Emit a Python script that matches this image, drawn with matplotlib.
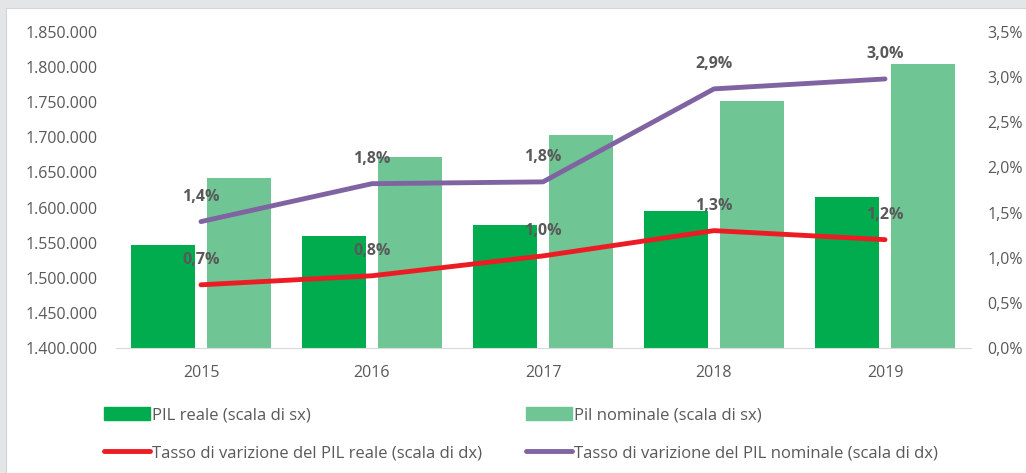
import matplotlib.pyplot as plt
from matplotlib.patches import Rectangle
from matplotlib.lines import Line2D
from matplotlib.patches import Patch
from matplotlib.ticker import FuncFormatter

# Data
years = ['2015', '2016', '2017', '2018', '2019']
pil_reale = [1547000, 1559500, 1575000, 1595500, 1615000]
pil_nominale = [1642500, 1672500, 1703500, 1752000, 1804500]
tasso_reale = [0.70, 0.80, 1.02, 1.30, 1.20]
tasso_nominale = [1.40, 1.82, 1.84, 2.87, 2.98]
lbl_reale = ['0,7%', '0,8%', '1,0%', '1,3%', '1,2%']
lbl_nominale = ['1,4%', '1,8%', '1,8%', '2,9%', '3,0%']

TXT = '#595959'
plt.rcParams['font.family'] = ['Open Sans', 'DejaVu Sans']

fig = plt.figure(figsize=(10.26, 4.73), dpi=100, facecolor='#e4e5e7')
# white chart area inside the grey frame
fig.patches.append(Rectangle((6 / 1026, 0), 1, 1 - 8 / 473, transform=fig.transFigure,
                             facecolor='white', edgecolor='#d4d4d4', lw=0.8, zorder=-10))

ax = fig.add_axes([115.5 / 1026, 1 - 348 / 473, 855 / 1026, (348 - 32) / 473])
ax.set_facecolor('none')
x = list(range(len(years)))
w = 0.37
b1 = ax.bar([i - 0.222 for i in x], pil_reale, width=w, color='#00ac4e', zorder=2)
b2 = ax.bar([i + 0.222 for i in x], pil_nominale, width=w, color='#70c595', zorder=2)
ax.set_ylim(1400000, 1850000)
ax.set_yticks(range(1400000, 1850001, 50000))
ax.yaxis.set_major_formatter(FuncFormatter(lambda v, p: f'{int(v):,}'.replace(',', '.')))
ax.set_xlim(-0.5, 4.5)
ax.set_xticks(x)
ax.set_xticklabels(years)
for s in ['top', 'right', 'left']:
    ax.spines[s].set_visible(False)
ax.spines['bottom'].set_color('#d9d9d9')
ax.tick_params(axis='both', length=0, colors=TXT, labelsize=11.5)
ax.tick_params(axis='y', pad=13)
ax.tick_params(axis='x', pad=12)

ax2 = ax.twinx()
for s in ax2.spines.values():
    s.set_visible(False)
l1, = ax2.plot(x, tasso_reale, color='#ed1c24', lw=3.5, solid_capstyle='round', zorder=3)
l2, = ax2.plot(x, tasso_nominale, color='#8064a2', lw=3.5, solid_capstyle='round', zorder=3)
ax2.set_ylim(0, 3.5)
ax2.set_yticks([i * 0.5 for i in range(8)])
ax2.yaxis.set_major_formatter(FuncFormatter(lambda v, p: f'{v:.1f}%'.replace('.', ',')))
ax2.tick_params(axis='y', length=0, colors=TXT, labelsize=11.5, pad=12)

for xs, ys, labs in [(x, tasso_reale, lbl_reale), (x, tasso_nominale, lbl_nominale)]:
    for xi, yi, t in zip(xs, ys, labs):
        ax2.annotate(t, (xi, yi), xytext=(0, 18), textcoords='offset points',
                     ha='center', va='center', fontsize=11.5, fontweight='bold', color=TXT)

kw = dict(frameon=False, fontsize=12, labelcolor=TXT, handlelength=2.75, handleheight=0.8,
          handletextpad=0.15, labelspacing=1.3, borderpad=0, borderaxespad=0, loc='upper left')
h1 = [Patch(color='#00ac4e'), Line2D([], [], color='#ed1c24', lw=3.5, solid_capstyle='round')]
h2 = [Patch(color='#70c595'), Line2D([], [], color='#8064a2', lw=3.5, solid_capstyle='round')]
leg1 = fig.legend(h1, ['PIL reale (scala di sx)', 'Tasso di varizione del PIL reale (scala di dx)'],
                  bbox_to_anchor=(104 / 1026, 1 - 407 / 473), **kw)
leg2 = fig.legend(h2, ['Pil nominale (scala di sx)', 'Tasso di varizione del PIL nominale (scala di dx)'],
                  bbox_to_anchor=(526 / 1026, 1 - 407 / 473), **kw)

fig.savefig('out.png', dpi=100, facecolor=fig.get_facecolor())
